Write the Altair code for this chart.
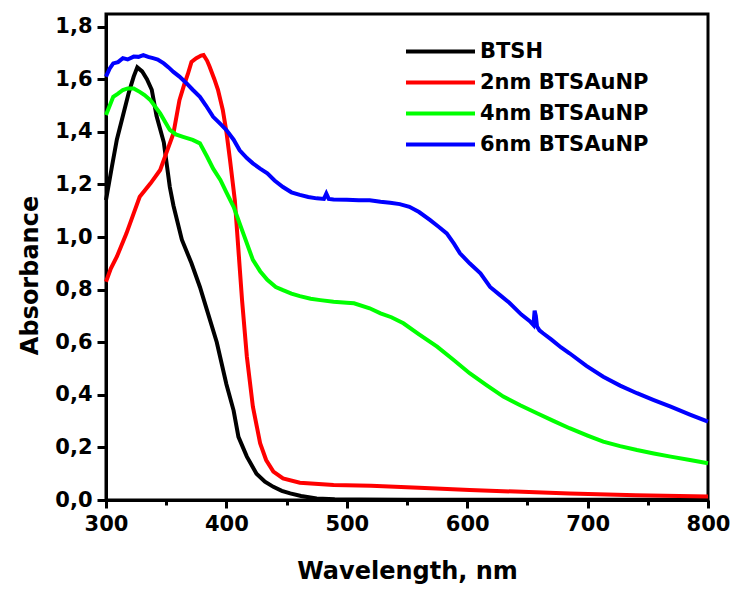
import altair as alt
import pandas as pd

series_names = ["BTSH", "2nm BTSAuNP", "4nm BTSAuNP", "6nm BTSAuNP"]
series_colors = ["#000000", "#ff0000", "#00ff00", "#0000ff"]

btsh_nm = [300, 305, 309, 314, 319, 323, 326, 330, 334, 338, 342, 348, 353, 356, 363, 371, 378,
           384, 392, 400, 406, 410, 417, 425, 432, 439, 446, 453, 462, 475, 490, 510, 550, 600, 700, 800]
btsh_abs = [1.14, 1.27, 1.37, 1.46, 1.55, 1.61, 1.645, 1.63, 1.60, 1.56, 1.46, 1.36, 1.19, 1.12, 0.99,
            0.90, 0.81, 0.72, 0.60, 0.44, 0.34, 0.24, 0.165, 0.10, 0.07, 0.05, 0.035, 0.025, 0.015,
            0.006, 0.003, 0.002, 0.001, 0.001, 0.001, 0.001]

np2_nm = [300, 304, 309, 313, 317, 323, 328, 337, 345, 350, 356, 361, 365, 368, 371, 375, 379, 381,
          384, 386, 390, 393, 397, 400, 403, 407, 410, 413, 417, 422, 428, 433, 439, 447, 461, 489,
          520, 560, 602, 640, 685, 740, 800]
np2_abs = [0.83, 0.88, 0.925, 0.97, 1.014, 1.09, 1.153, 1.204, 1.255, 1.318, 1.394, 1.52, 1.58, 1.62,
           1.666, 1.68, 1.69, 1.692, 1.67, 1.648, 1.60, 1.56, 1.483, 1.40, 1.293, 1.14, 0.95, 0.76,
           0.545, 0.355, 0.216, 0.152, 0.108, 0.082, 0.066, 0.057, 0.054, 0.047, 0.038, 0.032, 0.025,
           0.018, 0.013]

np4_nm = [300, 306, 310, 314, 318, 323, 328, 332, 337, 345, 353, 358, 364, 372, 378, 384, 389, 395,
          400, 406, 414, 422, 428, 434, 441, 447, 454, 461, 470, 478, 489, 500, 506, 519, 528, 537,
          547, 560, 575, 588, 602, 616, 630, 644, 658, 672, 685, 700, 713, 727, 741, 755, 769, 785, 800]
np4_abs = [1.464, 1.533, 1.545, 1.559, 1.565, 1.565, 1.552, 1.54, 1.52, 1.47, 1.407, 1.39, 1.381,
           1.369, 1.356, 1.305, 1.26, 1.217, 1.17, 1.115, 1.014, 0.913, 0.87, 0.837, 0.81, 0.798,
           0.785, 0.775, 0.765, 0.76, 0.754, 0.75, 0.748, 0.729, 0.71, 0.695, 0.672, 0.63, 0.583,
           0.535, 0.482, 0.437, 0.393, 0.36, 0.33, 0.30, 0.273, 0.245, 0.222, 0.205, 0.19, 0.177,
           0.165, 0.152, 0.14]

np6_nm = [300, 303, 306, 310, 314, 318, 323, 327, 331, 335, 339, 343, 348, 352, 356, 361, 367, 372,
          378, 383, 389, 395, 400, 406, 411, 417, 422, 428, 434, 440, 447, 454, 461, 468, 475, 481,
          483, 485, 489, 500, 510, 519, 528, 536, 544, 552, 560, 569, 576, 583, 589, 594, 602, 611,
          619, 627, 635, 645, 652, 655, 656, 657, 658, 660, 663, 670, 678, 685, 699, 713, 727, 741,
          755, 769, 785, 800]
np6_abs = [1.61, 1.64, 1.66, 1.665, 1.68, 1.675, 1.686, 1.685, 1.692, 1.685, 1.68, 1.675, 1.66, 1.645,
           1.628, 1.61, 1.584, 1.56, 1.533, 1.50, 1.457, 1.43, 1.407, 1.37, 1.33, 1.30, 1.28, 1.26,
           1.242, 1.215, 1.19, 1.17, 1.16, 1.152, 1.147, 1.145, 1.165, 1.145, 1.143, 1.142, 1.14,
           1.14, 1.134, 1.13, 1.125, 1.115, 1.095, 1.065, 1.04, 1.014, 0.975, 0.938, 0.90, 0.862,
           0.81, 0.78, 0.75, 0.705, 0.68, 0.665, 0.72, 0.70, 0.66, 0.645, 0.634, 0.61, 0.58, 0.558,
           0.51, 0.469, 0.435, 0.406, 0.38, 0.355, 0.325, 0.298]

x_major = [300, 400, 500, 600, 700, 800]
x_minor = [350, 450, 550, 650, 750]
y_ticks = [0.0, 0.2, 0.4, 0.6, 0.8, 1.0, 1.2, 1.4, 1.6, 1.8]

rows = []
for name, xs, ys in zip(series_names, [btsh_nm, np2_nm, np4_nm, np6_nm],
                        [btsh_abs, np2_abs, np4_abs, np6_abs]):
    for xv, yv in zip(xs, ys):
        rows.append({"series": name, "nm": xv, "abs": yv})
df = pd.DataFrame(rows)

FONT = "DejaVu Sans"
x_scale = alt.Scale(domain=[300, 800], nice=False, zero=False)
y_scale = alt.Scale(domain=[0, 1.848], nice=False, zero=False)

y_axis = alt.Axis(values=y_ticks, title="Absorbance",
                  labelExpr="replace(format(datum.value, '.1f'), '.', ',')",
                  titleAngle=-90, titleX=-69, titleY=261, titleAlign="center",
                  titleBaseline="alphabetic", tickSize=9, labelFlush=False)

lines = alt.Chart(df).mark_line(strokeWidth=4).encode(
    x=alt.X("nm:Q", scale=x_scale,
            axis=alt.Axis(values=x_major, format="d", title="Wavelength, nm",
                          titleY=78, titleBaseline="alphabetic", orient="bottom",
                          labelFlush=False)),
    y=alt.Y("abs:Q", scale=y_scale, axis=y_axis),
    color=alt.Color("series:N", sort=series_names,
                    scale=alt.Scale(domain=series_names, range=series_colors),
                    legend=alt.Legend(title=None, orient="none", legendX=298, legendY=22,
                                      symbolType="stroke", symbolSize=4761,
                                      symbolStrokeWidth=4, clipHeight=31, rowPadding=0,
                                      labelFont=FONT, labelFontWeight="bold", labelFontSize=21,
                                      labelColor="black", labelOffset=3, padding=0,
                                      symbolOffset=0, labelLimit=400)),
)

minor = alt.Chart(df).mark_line(opacity=0).encode(
    x=alt.X("nm:Q", scale=x_scale,
            axis=alt.Axis(values=x_minor, labels=False, domain=False, title=None,
                          tickSize=5, orient="bottom")),
    y=alt.Y("abs:Q", scale=y_scale, axis=y_axis),
    detail="series:N",
)

chart = alt.layer(lines, minor).resolve_axis(x="independent").properties(
    width=602, height=486, autosize="none",
    padding={"left": 106, "top": 14, "right": 25, "bottom": 89},
).configure_view(stroke="black", strokeWidth=3).configure_axis(
    grid=False, domainColor="black", domainWidth=3, tickColor="black", tickWidth=3,
    tickSize=8, labelFont=FONT, labelFontSize=21, labelFontWeight="bold", labelColor="black",
    labelPadding=5, titleFont=FONT, titleFontSize=24, titleFontWeight="bold", titleColor="black",
    labelFlush=False,
)

chart.save("out.html", embed_options={"renderer": "svg", "actions": False})
